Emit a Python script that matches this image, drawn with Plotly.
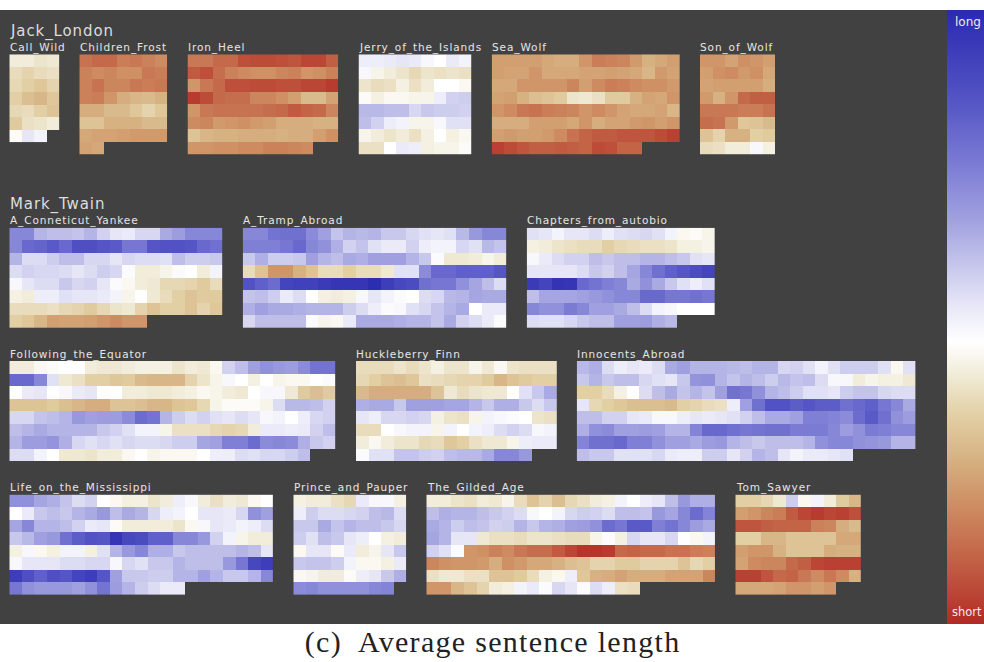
import plotly.graph_objects as go

# ---- data: average sentence length per text block (0 = short, 46 = neutral, 100 = long)
Call_Wild = [[41,41,39,40],[37,35,37,38],[36,34,32,35],[34,30,28,32],[36,37,34,31],[33,38,39,41],[45,52,49]]
Children_Frost = [[14,12,12,16,15,17,19],[17,19,18,20,20,15,16],[17,14,18,18,15,16,15],[17,16,21,26,28,29,27],
                  [26,26,29,29,32,35,32],[31,31,27,27,27,29,29],[25,24,24,23,22,22,22],[24,25]]
Iron_Heel = [[15,15,12,12,7,6,6,7,8,5,5,10],[9,7,13,17,19,20,20,18,17,21,20,17],[21,15,12,7,7,6,6,7,7,5,5,3],
             [3,6,12,13,13,18,18,20,23,29,29,24],[21,15,14,14,14,14,13,12,9,11,12,18],[19,18,22,21,20,22,23,26,26,26,27,27],
             [31,28,27,27,26,26,26,27,26,26,23,20],[21,21,20,20,19,19,17,17,18,19]]
Jerry_of_the_Islands = [[50,50,51,52,51,48,46,51,49],[48,43,41,39,36,39,38,39,38],[39,37,38,42,38,41,46,46,44],
                        [45,42,44,44,43,43,50,56,57],[61,61,60,60,55,58,57,57,56],[60,56,50,49,43,43,48,53,53],
                        [43,41,39,41,38,42,46,42,44],[38,38,46,51,50,42,43,43,45]]
Sea_Wolf = [[23,23,23,23,25,26,26,21,16,17,18,22,27,25,23],[23,24,24,21,25,25,25,24,24,23,24,25,28,22,24],
            [25,25,21,21,21,21,18,23,19,16,17,19,20,20,22],[24,23,27,30,31,33,39,40,38,33,33,27,24,25,21],
            [21,19,15,14,16,17,18,21,19,21,24,25,25,24,28],[26,26,26,23,23,23,25,21,26,24,24,22,21,23,21],
            [23,22,23,23,22,19,14,11,9,9,8,8,8,6,4],[4,6,8,10,10,9,10,11,6,7,11,11]]
Son_of_Wolf = [[21,21,24,20,21,23],[23,20,19,22,20,25],[24,23,23,23,23,26],[22,27,21,12,10,10],
               [15,15,15,16,16,14],[13,14,22,32,31,29],[31,35,27,27,34,33],[37,38,41,41,48,42]]
A_Conneticut_Yankee = [[72,72,62,60,60,59,62,56,52,51,55,55,64,67,72,72,72],[72,80,81,84,80,87,87,85,84,76,76,85,86,86,85,80,78],
                       [62,54,54,57,60,60,55,55,52,55,54,54,53,60,57,57,58],[54,56,55,55,54,52,54,57,55,47,41,41,43,47,46,41,49],
                       [48,52,54,54,58,55,56,52,47,44,41,40,36,36,35,33,37],[42,41,50,50,53,52,52,51,49,43,46,40,37,34,31,33,33],
                       [37,37,37,38,36,35,33,36,39,40,35,31,34,34,31,35,32],[34,32,28,23,24,24,23,21,19,21,21]]
A_Tramp_Abroad = [[72,72,77,78,78,71,66,59,62,61,62,58,58,55,53,52,53,61,68,72,72],
                  [74,74,74,76,80,72,70,63,56,59,53,51,51,56,50,49,49,55,53,61,59],
                  [58,63,57,57,58,66,62,60,64,63,66,66,66,62,58,47,40,40,41,43,41],
                  [37,31,21,21,27,31,37,37,34,37,37,40,53,53,71,80,80,82,82,82,85],
                  [86,82,79,91,92,92,94,96,96,96,99,93,90,88,78,76,76,70,65,60,54],
                  [59,60,57,51,54,46,42,41,42,48,52,49,47,46,54,55,61,62,65,64,64],
                  [63,66,64,64,63,62,62,62,57,54,50,47,48,53,55,59,62,64,46,51,51],
                  [55,60,60,60,60,47,43,44,51,64,64,64,63,62,62,59,64,56,54,51,47]]
Chapters_from_autobio = [[53,52,49,52,52,54,50,53,54,55,53,49,44,45,43],[42,41,39,38,37,37,34,36,37,38,38,39,42,42,43],
                         [48,51,54,56,56,60,58,60,60,62,62,60,58,53,52],[52,52,52,52,54,58,56,60,65,72,78,82,85,88,91],
                         [94,91,97,96,80,77,74,72,64,70,64,58,53,50,53],[60,65,65,65,66,68,70,72,72,80,80,76,76,78,76],
                         [72,70,70,75,72,66,66,64,60,54,49,48,46,46,46],[54,53,53,55,58,60,60,66,66,67,63,61]]
Following_the_Equator = [[41,41,44,45,46,46,41,40,40,41,42,42,42,39,41,40,44,56,60,66,70,68,67,71,77,77],
                         [80,80,72,53,40,38,34,34,32,33,29,28,28,28,35,39,43,48,46,42,46,43,44,44,46,47],
                         [46,51,52,46,48,51,52,46,46,41,41,40,40,41,42,44,43,41,40,46,48,48,40,33,30,33],
                         [31,31,31,33,30,28,26,26,31,31,30,28,28,31,32,36,43,45,45,45,43,54,61,61,60,56],
                         [55,55,59,60,62,68,66,67,67,71,79,77,62,57,54,56,53,52,54,52,48,49,46,50,55,56],
                         [60,62,64,62,62,62,62,58,56,53,49,49,43,38,38,38,36,35,36,41,51,51,50,51,56,60],
                         [62,67,67,69,63,55,53,55,53,55,54,54,55,57,57,65,66,74,74,79,71,72,71,63,58,56],
                         [54,54,49,46,40,40,39,41,41,44,46,43,44,44,44,46,50,50,54,53,55,55,57,60]]
Huckleberry_Finn = [[37,37,37,39,37,39,42,39,39,43,40,44,39,38,38,38],[36,34,31,30,32,38,37,36,35,35,33,28,31,33,34,34],
                    [29,26,26,26,26,26,31,40,37,39,40,40,46,53,58,64],[63,64,64,58,66,66,66,65,65,62,58,63,63,58,54,58],
                    [52,50,55,55,56,55,42,39,38,43,49,48,47,46,39,38],[37,37,46,48,49,49,43,49,46,49,50,54,56,54,48,49],
                    [41,44,41,39,39,36,37,32,34,38,40,40,43,50,51,51],[47,53,53,59,59,57,56,60,61,61,64,72,72,68]]
Innocents_Abroad = [[61,63,54,50,52,51,54,64,66,62,62,62,61,60,62,62,55,56,53,49,53,57,57,57,53,44,53],
                    [58,62,58,60,60,55,53,52,58,69,70,62,59,62,60,57,61,59,60,54,48,48,41,43,42,42,40],
                    [34,34,37,42,46,54,60,64,59,62,59,66,78,76,70,62,60,57,53,53,52,57,59,59,55,54,54],
                    [52,36,34,32,30,30,30,29,34,35,37,38,50,66,78,86,86,83,85,83,83,78,80,82,76,72,64],
                    [60,60,56,56,52,51,48,48,50,52,51,52,53,56,60,64,64,66,74,74,73,71,79,84,78,70,67],
                    [63,70,71,66,66,67,66,62,62,73,80,80,78,76,77,78,78,75,75,75,72,67,70,75,74,72,72],
                    [73,78,78,80,74,74,70,66,66,64,67,68,62,60,58,60,60,60,62,70,72,72,70,69,68,62,62],
                    [60,58,58,53,53,53,55,51,50,50,57,57,52,56,62,60,52,49,51,51,52,53]]
Life_on_the_Mississippi = [[70,70,65,63,59,54,56,46,44,42,42,39,41,50,48,41,38,41,40,44,46],
                           [46,51,58,60,58,62,64,68,60,64,62,55,50,49,46,52,52,51,55,70,66],
                           [65,72,62,62,60,56,51,52,45,41,41,41,41,39,44,48,52,51,49,50,54],
                           [58,61,66,68,78,83,86,85,96,90,88,82,82,72,72,68,56,49,43,41,41],
                           [42,48,44,42,49,49,42,53,62,68,72,63,63,58,60,60,60,60,62,60,52],
                           [48,52,52,52,54,54,55,55,48,55,53,58,58,62,60,60,60,68,76,90,93],
                           [93,87,82,87,85,91,93,85,66,58,58,57,57,62,62,66,62,58,58,62,72],
                           [76,70,68,68,68,66,70,77,67,62,57,54,51,51]]
Prince_and_Pauper = [[42,41,41,38,36,51,48,48,42],[50,57,54,54,55,56,60,61,54],[58,58,64,59,62,60,60,58,55],
                     [57,53,60,58,52,50,46,42,41],[44,52,52,45,51,41,43,52,58],[58,59,59,57,49,44,44,42,51],
                     [44,43,41,41,45,50,52,58,63],[71,72,70,70,70,70,72,73]]
The_Gilded_Age = [[41,41,39,38,41,40,43,37,31,35,30,36,38,41,42,49,46,50,52,60,68,63,63],
                  [60,63,62,62,60,58,56,54,48,46,49,55,57,56,54,60,60,59,68,65,72,79,73],
                  [64,62,57,60,59,56,57,62,58,62,63,66,67,70,79,76,84,84,74,77,72,67,64],
                  [65,62,52,52,40,38,38,37,39,39,38,37,37,43,47,42,55,52,52,55,46,44,49],
                  [56,53,47,21,20,17,19,15,13,13,9,5,2,2,3,12,11,12,12,14,14,16,17],
                  [18,20,21,21,22,26,20,22,25,25,27,30,31,35,35,33,33,35,35,35,31,36,34],
                  [38,40,40,38,38,31,31,33,37,42,44,50,32,27,26,24,26,26,26,24,24,24,18],
                  [21,21,28,31,35,41,42,49,51,47,55,52,47,54,50,38,37]]
Tom_Sawyer = [[34,34,36,40,57,44,49,41,33,28],[23,21,18,16,9,5,3,5,4,7],[8,8,10,11,11,11,17,18,26,29],
              [34,34,28,28,31,31,31,31,25,25],[23,21,21,27,31,31,31,26,27,27],[24,19,18,18,12,10,5,4,4,4],
              [4,4,8,12,11,15,19,15,19,27],[25,25,25,24,21,21,23,21]]

author_names = ["Jack_London", "Mark_Twain"]
book_names = ["Call_Wild", "Children_Frost", "Iron_Heel", "Jerry_of_the_Islands", "Sea_Wolf", "Son_of_Wolf",
              "A_Conneticut_Yankee", "A_Tramp_Abroad", "Chapters_from_autobio",
              "Following_the_Equator", "Huckleberry_Finn", "Innocents_Abroad",
              "Life_on_the_Mississippi", "Prince_and_Pauper", "The_Gilded_Age", "Tom_Sawyer"]
book_values = [Call_Wild, Children_Frost, Iron_Heel, Jerry_of_the_Islands, Sea_Wolf, Son_of_Wolf,
               A_Conneticut_Yankee, A_Tramp_Abroad, Chapters_from_autobio,
               Following_the_Equator, Huckleberry_Finn, Innocents_Abroad,
               Life_on_the_Mississippi, Prince_and_Pauper, The_Gilded_Age, Tom_Sawyer]

# ---- layout (pixels in the 984x662 page)
W, H = 984, 662
CELL = 12.55
panel_left = [9.3, 79.3, 187.5, 358.5, 491.7, 700, 9.3, 242.7, 526.7, 9.3, 356, 576.7, 9.3, 293.3, 426.3, 735.3]
panel_top = [54.3] * 6 + [227.7] * 3 + [361] * 3 + [494.6] * 4
author_pos = [(8.5, 31), (8.5, 205)]
BG = "#414141"
colorscale = [[0, "#b22a24"], [0.05, "#bb4635"], [0.12, "#c4694a"], [0.2, "#cf9064"], [0.27, "#d6b282"],
              [0.34, "#e2cfa4"], [0.40, "#efe9d3"], [0.46, "#ffffff"], [0.52, "#e6e6f7"], [0.58, "#c8c8ec"],
              [0.66, "#a0a0e0"], [0.75, "#7b7bd4"], [0.85, "#5555c5"], [1, "#2a2ab0"]]

fig = go.Figure()
annotations = []
axes = {}
for i, (name, rows) in enumerate(zip(book_names, book_values)):
    ncol = max(len(r) for r in rows)
    z = [r + [None] * (ncol - len(r)) for r in rows]
    n = i + 1
    sx = "" if i == 0 else str(n)
    fig.add_trace(go.Heatmap(z=z, coloraxis="coloraxis", xaxis=f"x{sx}", yaxis=f"y{sx}", name=name,
                             hoverongaps=False))
    l, t = panel_left[i], panel_top[i]
    axes[f"xaxis{sx}"] = dict(domain=[l / W, (l + ncol * CELL) / W], range=[-0.5, ncol - 0.5], visible=False, anchor=f"y{sx}")
    axes[f"yaxis{sx}"] = dict(domain=[1 - (t + len(rows) * CELL) / H, 1 - t / H], range=[len(rows) - 0.5, -0.5], visible=False, anchor=f"x{sx}")
    annotations.append(dict(text=name, x=(l - 0.7) / W, y=1 - (t + 0.5) / H, xref="paper", yref="paper", xanchor="left", yanchor="bottom",
                            align="left", showarrow=False, borderpad=0,
                            font=dict(family="DejaVu Sans", size=10.5, color="#e6e6e6")))

for name, (x, y) in zip(author_names, author_pos):
    annotations.append(dict(text=name, x=x / W, y=1 - y / H, xref="paper", yref="paper", xanchor="left", yanchor="middle",
                            align="left", showarrow=False, borderpad=0,
                            font=dict(family="DejaVu Sans", size=15, color="#dddddd")))

annotations += [
    dict(text="long", x=968 / W, y=1 - 22 / H, xref="paper", yref="paper", xanchor="center", yanchor="middle",
         showarrow=False, borderpad=0, font=dict(family="DejaVu Sans", size=12, color="#eeeeee")),
    dict(text="short", x=967 / W, y=1 - 612 / H, xref="paper", yref="paper", xanchor="center", yanchor="middle",
         showarrow=False, borderpad=0, font=dict(family="DejaVu Sans", size=11.5, color="#eeeeee")),
    dict(text="(c)  Average sentence length", x=492 / W, y=1 - 642 / H, xref="paper", yref="paper", xanchor="center", yanchor="middle",
         showarrow=False, borderpad=0, font=dict(family="Liberation Serif", size=30, color="#222222")),
]

fig.update_layout(
    width=W, height=H, margin=dict(l=0, r=0, t=0, b=0), paper_bgcolor="white", plot_bgcolor="rgba(0,0,0,0)",
    showlegend=False, annotations=annotations,
    coloraxis=dict(colorscale=colorscale, cmin=0, cmax=100,
                   colorbar=dict(x=947 / W, xanchor="left", xpad=0, ypad=0, thickness=37, thicknessmode="pixels",
                                 y=1 - 10 / H, yanchor="top", len=614, lenmode="pixels",
                                 outlinewidth=0, ticks="", showticklabels=False)),
    shapes=[dict(type="rect", xref="paper", yref="paper", x0=0, x1=947 / W, y0=1 - 624 / H, y1=1 - 10 / H,
                 fillcolor=BG, line_width=0, layer="below")],
    **axes,
)
spacing_js = """
document.body.style.margin='0';document.body.style.overflow='hidden';
document.querySelectorAll('.annotation-text').forEach(function(t){
  var s=parseFloat(t.style.fontSize);
  if(s<11){t.style.letterSpacing='0.9px';}
  else if(s>14 && s<16){t.style.letterSpacing='0.9px';}
  else if(s>=30){t.style.letterSpacing='1.3px';}
});
"""
fig.write_html("out.html", config=dict(displayModeBar=False), post_script=spacing_js)
